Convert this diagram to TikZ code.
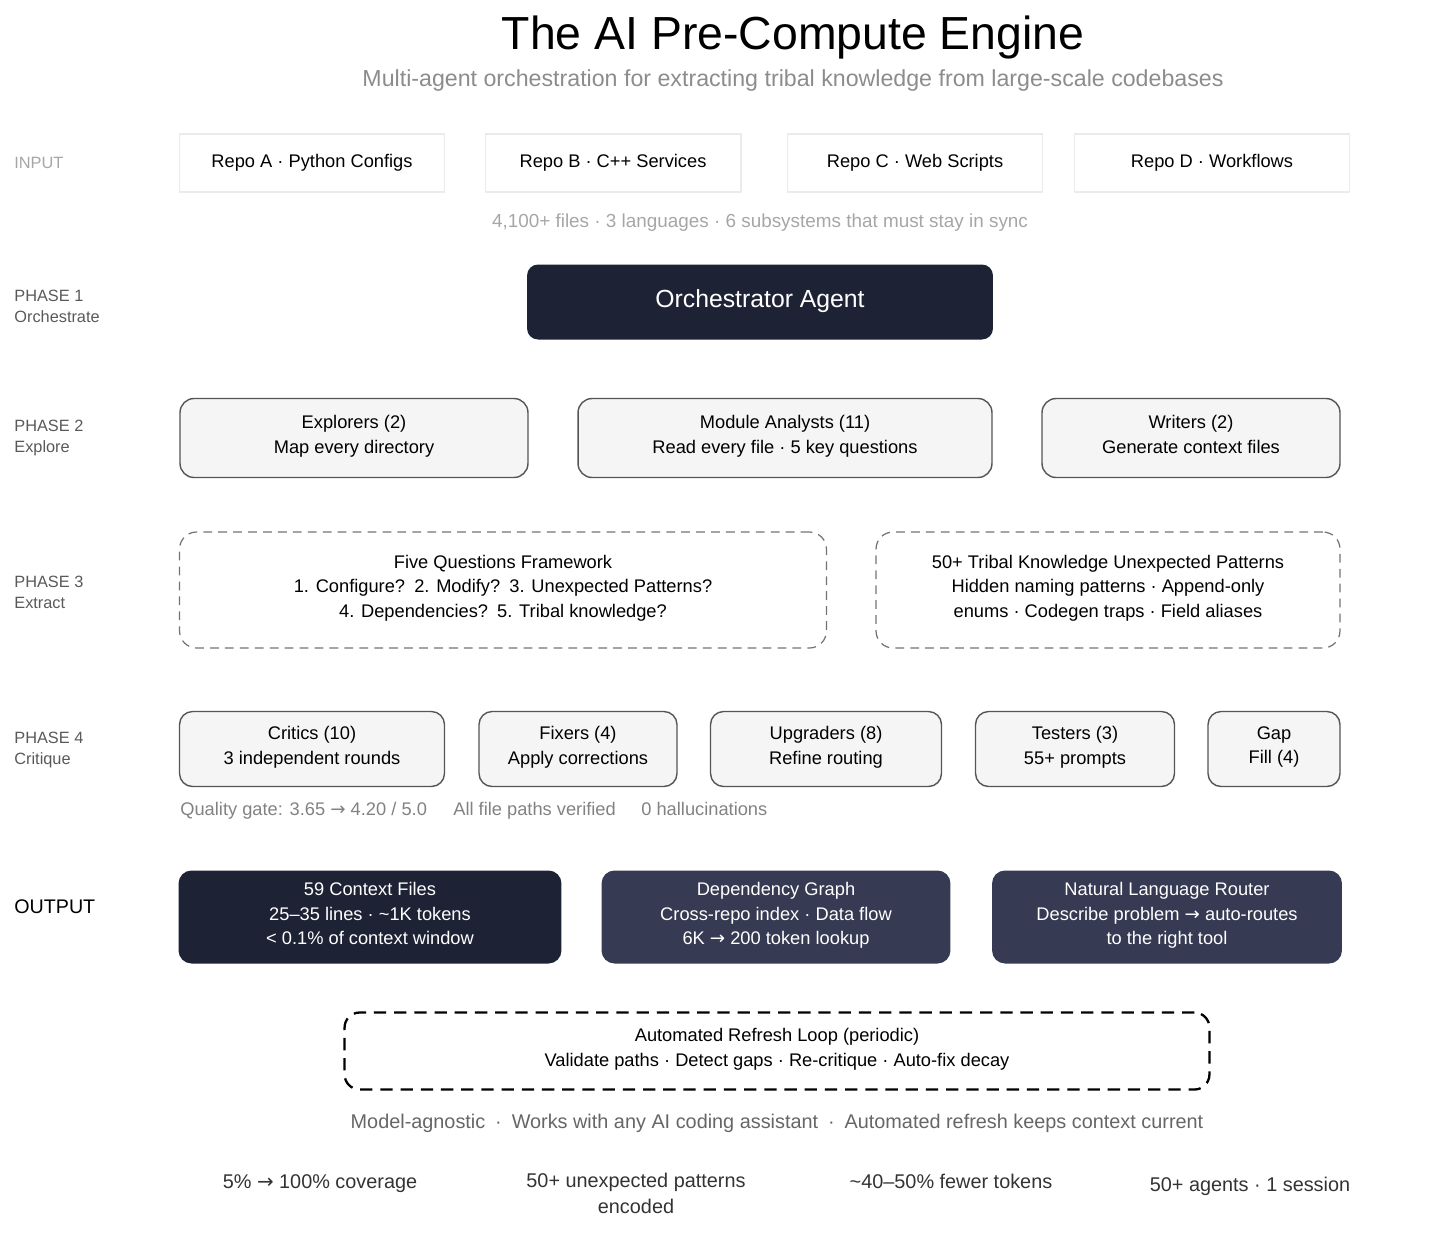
\documentclass[tikz,border=0pt]{standalone}
\usepackage{fontspec}
\setmainfont{Liberation Sans}
\newfontfamily\symfont{DejaVu Sans}
\newcommand{\toarr}{{\symfont →}}
\usepackage{tikz}
\definecolor{engnavy}{RGB}{30,34,53}
\definecolor{engslate}{RGB}{54,58,82}
\definecolor{engpale}{RGB}{245,245,245}
\definecolor{engedge}{RGB}{85,85,85}
\definecolor{enggrey}{RGB}{130,130,130}

\begin{document}
\begin{tikzpicture}[x=0.02cm,y=-0.02cm,
      txt/.style={font=\fontsize{10.4}{13.8}\selectfont,align=center,
        execute at begin node=\strut,execute at end node=\strut},
      inbox/.style={txt,draw=black!8,line width=.6pt,fill=white,minimum height=1.16cm},
      agent/.style={txt,fill=engnavy,text=white,rounded corners=.22cm,minimum height=1.5cm,
        font=\fontsize{14.1}{17}\selectfont},
      phbox/.style={txt,draw=engedge,line width=.8pt,fill=engpale,rounded corners=.28cm,minimum height=1.58cm},
      dashbox/.style={txt,draw=black!55,line width=.7pt,dash pattern=on 5pt off 3.5pt,
        rounded corners=.34cm,minimum height=2.32cm},
      critbox/.style={txt,draw=engedge,line width=.8pt,fill=engpale,rounded corners=.26cm,minimum height=1.5cm},
      outbox/.style={txt,text=white,rounded corners=.26cm,minimum height=1.86cm},
      loopbox/.style={txt,draw=black,line width=1.3pt,dash pattern=on 7pt off 4.5pt,
        rounded corners=.3cm,minimum height=1.54cm},
      lbl/.style={anchor=west,align=left,inner sep=0pt,text=black!65,font=\fontsize{9.3}{12}\selectfont},
      note/.style={anchor=west,inner sep=0pt,text height=1.6ex,text depth=.45ex,
        text=enggrey,font=\fontsize{10.4}{13}\selectfont}]
  \useasboundingbox (0,0) rectangle (1456,1248);

  % heading
  \node[font=\fontsize{26.4}{30}\selectfont] (title) at (793,38) {The AI Pre-Compute Engine};
  \node[text=black!45,font=\fontsize{13.2}{15}\selectfont] (sub) at (793,80)
    {Multi-agent orchestration for extracting tribal knowledge from large-scale codebases};

  % row labels
  \node[lbl,text=black!35] (linput) at (14,163) {INPUT};
  \node[lbl] (lph1) at (14,306) {PHASE 1\\Orchestrate};
  \node[lbl] (lph2) at (14,438) {PHASE 2\\Explore};
  \node[lbl] (lph3) at (14,592) {PHASE 3\\Extract};
  \node[lbl] (lph4) at (14,750) {PHASE 4\\Critique};
  \node[anchor=west,inner sep=0pt,font=\fontsize{11.2}{13}\selectfont] (lout) at (14,907) {OUTPUT};

  % input
  \node[inbox,minimum width=5.3cm] (repoa) at (312,163) {Repo A · Python Configs};
  \node[inbox,minimum width=5.12cm] (repob) at (613,163) {Repo B · C++ Services};
  \node[inbox,minimum width=5.1cm] (repoc) at (915,163) {Repo C · Web Scripts};
  \node[inbox,minimum width=5.5cm] (repod) at (1212,163) {Repo D · Workflows};
  \node[note,anchor=center,text=black!35,font=\fontsize{10.75}{13}\selectfont] (scale) at (760,222)
    {4,100+ files · 3 languages · 6 subsystems that must stay in sync};

  % phase 1
  \node[agent,minimum width=9.32cm] (orch) at (760,302) {Orchestrator Agent};

  % phase 2
  \node[phbox,minimum width=6.96cm] (explore) at (354,438) {Explorers (2)\\Map every directory};
  \node[phbox,minimum width=8.28cm] (module) at (785,438) {Module Analysts (11)\\Read every file · 5 key questions};
  \node[phbox,minimum width=5.96cm] (writer) at (1191,438) {Writers (2)\\Generate context files};

  % phase 3
  \node[dashbox,minimum width=12.94cm] (fiveq) at (503,590)
    {Five Questions Framework\\1. Configure?\enspace 2. Modify?\enspace 3. Unexpected Patterns?\\4. Dependencies?\enspace 5. Tribal knowledge?};
  \node[dashbox,minimum width=9.28cm] (tribal) at (1108,590)
    {50+ Tribal Knowledge Unexpected Patterns\\Hidden naming patterns · Append-only\\enums · Codegen traps · Field aliases};

  % phase 4
  \node[critbox,minimum width=5.3cm] (critic) at (312,749) {Critics (10)\\3 independent rounds};
  \node[critbox,minimum width=3.96cm] (fixer) at (578,749) {Fixers (4)\\Apply corrections};
  \node[critbox,minimum width=4.62cm] (upgrade) at (826,749) {Upgraders (8)\\Refine routing};
  \node[critbox,minimum width=3.98cm] (tester) at (1075,749) {Testers (3)\\55+ prompts};
  \node[critbox,minimum width=2.64cm] (gapfill) at (1274,749) {Gap\\Fill (4)};
  \node[note] (gate) at (180,810) {Quality gate: 3.65 \toarr\ 4.20 / 5.0};
  \node[note] (paths) at (453,810) {All file paths verified};
  \node[note] (halluc) at (641,810) {0 hallucinations};

  % output
  \node[outbox,fill=engnavy,minimum width=7.66cm] (ctx) at (370,917)
    {59 Context Files\\25–35 lines · \textasciitilde 1K tokens\\< 0.1\% of context window};
  \node[outbox,fill=engslate,minimum width=6.98cm] (depg) at (776,917)
    {Dependency Graph\\Cross-repo index · Data flow\\6K \toarr\ 200 token lookup};
  \node[outbox,fill=engslate,minimum width=7cm] (router) at (1167,917)
    {Natural Language Router\\Describe problem \toarr\ auto-routes\\to the right tool};

  % refresh loop
  \node[loopbox,minimum width=17.3cm] (refresh) at (777,1051)
    {Automated Refresh Loop (periodic)\\Validate paths · Detect gaps · Re-critique · Auto-fix decay};

  % footer
  \node[text=black!60,font=\fontsize{11.3}{13}\selectfont] (tagline) at (777,1123)
    {Model-agnostic\enspace·\enspace Works with any AI coding assistant\enspace·\enspace Automated refresh keeps context current};
  \node[txt,font=\fontsize{11.3}{14.5}\selectfont,text=black!80] (st1) at (320,1183) {5\% \toarr\ 100\% coverage};
  \node[txt,font=\fontsize{11.3}{14.5}\selectfont,text=black!80] (st2) at (636,1197) {50+ unexpected patterns\\encoded};
  \node[txt,font=\fontsize{11.3}{14.5}\selectfont,text=black!80] (st3) at (951,1183) {\textasciitilde 40–50\% fewer tokens};
  \node[txt,font=\fontsize{11.3}{14.5}\selectfont,text=black!80] (st4) at (1250,1186) {50+ agents · 1 session};
\end{tikzpicture}
\end{document}
